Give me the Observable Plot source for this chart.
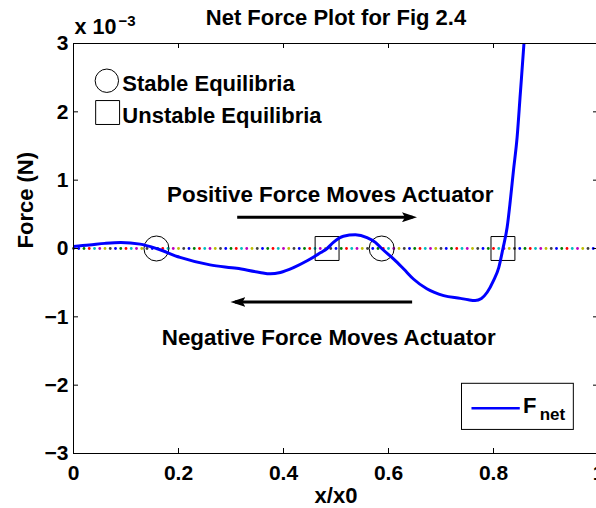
<!DOCTYPE html>
<html><head><meta charset="utf-8">
<script src="https://cdn.jsdelivr.net/npm/d3@7"></script>
<script src="https://cdn.jsdelivr.net/npm/@observablehq/plot@0.6"></script>
<style>
html,body{margin:0;padding:0;background:#fff;}
#chart svg{display:block;}
</style>
</head><body><div id="chart"></div>
<script>
// ---- data (force in units of 1e-3 N) ----
const fnetX = [0, 0.03, 0.06, 0.09, 0.127, 0.158, 0.203, 0.26, 0.311, 0.355, 0.375, 0.394, 0.419, 0.445, 0.471, 0.483, 0.495, 0.514, 0.537, 0.559, 0.575, 0.587, 0.61, 0.629, 0.648, 0.673, 0.705, 0.737, 0.752, 0.765, 0.777, 0.788, 0.80, 0.81, 0.818, 0.826, 0.832, 0.838, 0.845, 0.851, 0.858, 0.866];
const fnetY = [0.03, 0.05, 0.075, 0.088, 0.064, 0, -0.13, -0.24, -0.29, -0.35, -0.37, -0.35, -0.28, -0.18, -0.06, 0, 0.09, 0.18, 0.20, 0.16, 0.09, 0, -0.155, -0.30, -0.45, -0.59, -0.69, -0.73, -0.75, -0.76, -0.73, -0.64, -0.47, -0.28, 0, 0.31, 0.70, 1.14, 1.63, 2.26, 3.0, 4.0];
const stableX = [0.158, 0.587];
const unstableX = [0.483, 0.818];
const xTicks = [0, 0.2, 0.4, 0.6, 0.8, 1];
const yTicks = [-3, -2, -1, 0, 1, 2, 3];
const zeroLineX = d3.range(0, 101).map(i => i / 100);
const colorOrder = ["#0000ff", "#008000", "#ff0000", "#00bfbf", "#bf00bf", "#bfbf00", "#404040"];
const titleText = "Net Force Plot for Fig 2.4";
const xLabel = "x/x0";
const yLabel = "Force (N)";
const posText = "Positive Force Moves Actuator";
const negText = "Negative Force Moves Actuator";

const fnet = fnetX.map((x, i) => ({x, y: fnetY[i]}));
const zeroDots = zeroLineX.map((x, i) => ({x, c: colorOrder[(i + 6) % 7]}));

const FONT = "'Liberation Sans', Arial, Helvetica, sans-serif";
const W = 596, H = 508, ML = 73, MR = -2, MT = 43, MB = 55;
const FW = W - ML - MR, FH = H - MT - MB;

function filledHead(color) {
  const m = d3.create("svg:marker")
    .attr("viewBox", "0 -5 15 10")
    .attr("markerWidth", 15).attr("markerHeight", 10)
    .attr("refX", 10.5).attr("refY", 0)
    .attr("orient", "auto")
    .attr("markerUnits", "userSpaceOnUse")
    .attr("fill", color).attr("stroke", "none");
  m.append("path").attr("d", "M0,-5L15,0L0,5L3,0Z");
  return m.node();
}

const fmtY = d => d < 0 ? "\u2212" + (-d) : String(d);

const chart = Plot.plot({
  width: W, height: H,
  marginLeft: ML, marginRight: MR, marginTop: MT, marginBottom: MB,
  x: {domain: [0, 1]},
  y: {domain: [-3, 3]},
  color: {type: "identity"},
  style: {fontFamily: FONT, fontWeight: "bold", background: "white", color: "black", overflow: "hidden"},
  marks: [
    // multicolored dotted zero line
    Plot.dot(zeroDots, {x: "x", y: 0, r: 1.4, fill: "c", stroke: null}),
    // equilibria markers
    Plot.dot(stableX, {x: d => d, y: 0, r: 12.5, stroke: "black", strokeWidth: 1, fill: "none"}),
    Plot.dot(unstableX, {x: d => d, y: 0, r: 13.5, symbol: "square", stroke: "black", strokeWidth: 1, fill: "none"}),
    // Fnet curve
    Plot.line(fnet, {x: "x", y: "y", stroke: "#0000ff", strokeWidth: 3, curve: "monotone-x", clip: true}),
    // frame and inward ticks
    Plot.frame({stroke: "black", strokeWidth: 1}),
    Plot.tickX(xTicks, {x: d => d, insetTop: FH - 5, stroke: "black"}),
    Plot.tickX(xTicks, {x: d => d, insetBottom: FH - 5, stroke: "black"}),
    Plot.tickY(yTicks, {y: d => d, insetRight: FW - 5, stroke: "black"}),
    Plot.tickY(yTicks, {y: d => d, insetLeft: FW - 5, stroke: "black"}),
    Plot.axisX(xTicks, {tickSize: 0, tickPadding: 12, fontSize: 21, fontWeight: "bold", tickFormat: d => String(d), label: null}),
    Plot.axisY(yTicks, {tickSize: 0, tickPadding: 5, fontSize: 21, fontWeight: "bold", tickFormat: fmtY, label: null}),
    // title, axis labels, exponent
    Plot.text([titleText], {frameAnchor: "top", lineAnchor: "bottom", dy: 24 - MT, fontSize: 22, fontWeight: "bold", fill: "black"}),
    Plot.text([xLabel], {frameAnchor: "bottom", lineAnchor: "bottom", dy: 502 - (H - MB), fontSize: 22, fontWeight: "bold", fill: "black"}),
    Plot.text([yLabel], {frameAnchor: "left", lineAnchor: "bottom", rotate: -90, dx: 32 - ML, fontSize: 22, fontWeight: "bold", fill: "black"}),
    Plot.text(["x 10"], {frameAnchor: "top-left", textAnchor: "start", lineAnchor: "bottom", dx: 74 - ML, dy: 33 - MT, fontSize: 21.5, fontWeight: "bold", fill: "black"}),
    Plot.text(["\u22123"], {frameAnchor: "top-left", textAnchor: "start", lineAnchor: "bottom", dx: 118 - ML, dy: 25 - MT, fontSize: 15, fontWeight: "bold", fill: "black"}),
    // equilibria legend (top-left)
    Plot.dot([0], {x: 0.0635, y: 2.455, r: 11.7, stroke: "black", strokeWidth: 1, fill: "none"}),
    Plot.dot([0], {x: 0.065, y: 1.99, r: 13.5, symbol: "square", stroke: "black", strokeWidth: 1, fill: "none"}),
    Plot.text(["Stable Equilibria"], {x: 0.093, y: 2.30, textAnchor: "start", lineAnchor: "bottom", fontSize: 22, fontWeight: "bold", fill: "black"}),
    Plot.text(["Unstable Equilibria"], {x: 0.093, y: 1.83, textAnchor: "start", lineAnchor: "bottom", fontSize: 22, fontWeight: "bold", fill: "black"}),
    // annotations with arrows
    Plot.text([posText], {x: 0.489, y: 0.68, lineAnchor: "bottom", fontSize: 22.4, fontWeight: "bold", fill: "black"}),
    Plot.link([0], {x1: 0.3118, x2: 0.6457, y1: 0.458, y2: 0.458, stroke: "black", strokeWidth: 3, markerEnd: filledHead}),
    Plot.text([negText], {x: 0.486, y: -1.41, lineAnchor: "bottom", fontSize: 22.4, fontWeight: "bold", fill: "black"}),
    Plot.link([0], {x1: 0.645, x2: 0.3076, y1: -0.783, y2: -0.783, stroke: "black", strokeWidth: 3, markerEnd: filledHead}),
    // Fnet legend box
    Plot.rect([0], {x1: 0.740, x2: 0.953, y1: -1.98, y2: -2.655, fill: "white", stroke: "black", strokeWidth: 1}),
    Plot.ruleY([-2.337], {x1: 0.759, x2: 0.851, stroke: "#0000ff", strokeWidth: 2.5}),
    Plot.text(["F"], {x: 0.856, y: -2.40, textAnchor: "start", lineAnchor: "bottom", fontSize: 22, fontWeight: "bold", fill: "black"}),
    Plot.text(["net"], {x: 0.888, y: -2.51, textAnchor: "start", lineAnchor: "bottom", fontSize: 17, fontWeight: "bold", fill: "black"})
  ]
});
document.getElementById("chart").appendChild(chart);
</script>
</body></html>
